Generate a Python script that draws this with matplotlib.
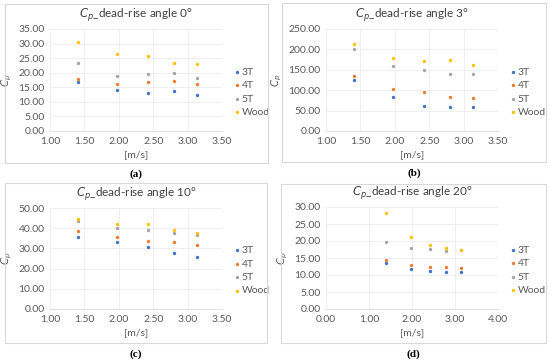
import matplotlib.pyplot as plt
from matplotlib.patches import Rectangle

plt.rcParams['font.family'] = ['Lato', 'DejaVu Sans']

# drop velocities [m/s]
speed = [1.40, 1.98, 2.43, 2.80, 3.13]
series = ['3T', '4T', '5T', 'Wood']
colors = ['#4472C4', '#ED7D31', '#A5A5A5', '#FFC000']

cp_0 = {
    '3T': [16.7, 14.2, 12.9, 13.7, 12.5],
    '4T': [17.8, 16.1, 16.8, 17.3, 16.0],
    '5T': [23.3, 19.0, 19.7, 19.8, 18.3],
    'Wood': [30.5, 26.4, 25.8, 23.3, 22.9],
}
cp_3 = {
    '3T': [125, 84, 61, 58, 58],
    '4T': [134, 102, 96, 83, 80],
    '5T': [200, 160, 150, 139, 140],
    'Wood': [213, 178, 172, 173, 162],
}
cp_10 = {
    '3T': [35.6, 33.0, 30.7, 27.9, 25.6],
    '4T': [38.5, 35.4, 33.8, 33.0, 31.8],
    '5T': [43.8, 40.0, 39.3, 37.4, 36.6],
    'Wood': [44.4, 42.1, 42.1, 39.3, 37.4],
}
cp_20 = {
    '3T': [13.6, 11.9, 11.3, 10.9, 10.9],
    '4T': [14.3, 12.8, 12.5, 12.3, 12.1],
    '5T': [19.6, 17.9, 17.6, 17.1, 17.3],
    'Wood': [28.1, 21.2, 18.8, 17.8, 17.4],
}

W, H = 550, 361
fig = plt.figure(figsize=(W / 100, H / 100), dpi=100)


def px_axes(x0, y0, x1, y1):
    return fig.add_axes([x0 / W, 1 - y1 / H, (x1 - x0) / W, (y1 - y0) / H])


def panel(box, area, data, angle, xlim, xstep, ylim, ystep, tag):
    bx0, by0, bx1, by1 = box
    fig.add_artist(Rectangle((bx0 / W, 1 - by1 / H), (bx1 - bx0) / W, (by1 - by0) / H,
                             transform=fig.transFigure, fill=False,
                             edgecolor='#d9d9d9', linewidth=0.8))
    ax = px_axes(*area)
    for name, c in zip(series, colors):
        ax.scatter(speed, data[name], s=6, color=c, label=name, zorder=3, linewidths=0)
    ax.set_xlim(*xlim)
    ax.set_ylim(*ylim)
    n = int(round((xlim[1] - xlim[0]) / xstep))
    ax.set_xticks([xlim[0] + i * xstep for i in range(n + 1)])
    m = int(round((ylim[1] - ylim[0]) / ystep))
    ax.set_yticks([ylim[0] + i * ystep for i in range(m + 1)])
    ax.xaxis.set_major_formatter(lambda v, p: f'{v:.2f}')
    ax.yaxis.set_major_formatter(lambda v, p: f'{v:.2f}')
    ax.grid(True, color='#ececec', linewidth=0.6)
    ax.set_axisbelow(True)
    for s in ['top', 'right', 'left']:
        ax.spines[s].set_visible(False)
    ax.spines['bottom'].set_color('#d9d9d9')
    ax.spines['bottom'].set_linewidth(0.6)
    ax.tick_params(length=0, labelsize=7.5, colors='#595959', pad=4)
    ax.set_xlabel('[m/s]', fontsize=7.5, color='#595959', labelpad=3)
    ax.set_ylabel('$C_p$', fontsize=7.5, color='#595959', labelpad=3)
    ax.set_title('$C_{p}$_dead-rise angle %d°' % angle, fontsize=8.5, color='#404040', pad=9)
    ax.legend(loc='center left', bbox_to_anchor=(1.0, 0.38), frameon=False,
              fontsize=7.5, handletextpad=0.0, markerscale=1.0, labelspacing=0.4,
              handlelength=1.0, labelcolor='#595959')
    fig.text((bx0 + bx1) / 2 / W, 1 - (by1 + 11) / H, tag, ha='center', va='center',
             fontsize=8, fontweight='bold', family=['Liberation Serif', 'DejaVu Serif'])
    return ax


panel((5, 4, 268, 163), (50, 29, 222, 131), cp_0, 0, (1.0, 3.5), 0.5, (0, 35), 5, '(a)')
panel((282, 3, 546, 162), (326, 29, 498, 131), cp_3, 3, (1.0, 3.5), 0.5, (0, 250), 50, '(b)')
panel((5, 183, 267, 343), (50, 208, 222, 309), cp_10, 10, (1.0, 3.5), 0.5, (0, 50), 10, '(c)')
panel((281, 184, 546, 343), (326, 207, 498, 309), cp_20, 20, (0.0, 4.0), 1.0, (0, 30), 5, '(d)')

fig.savefig('out.png', dpi=100, facecolor='white')
